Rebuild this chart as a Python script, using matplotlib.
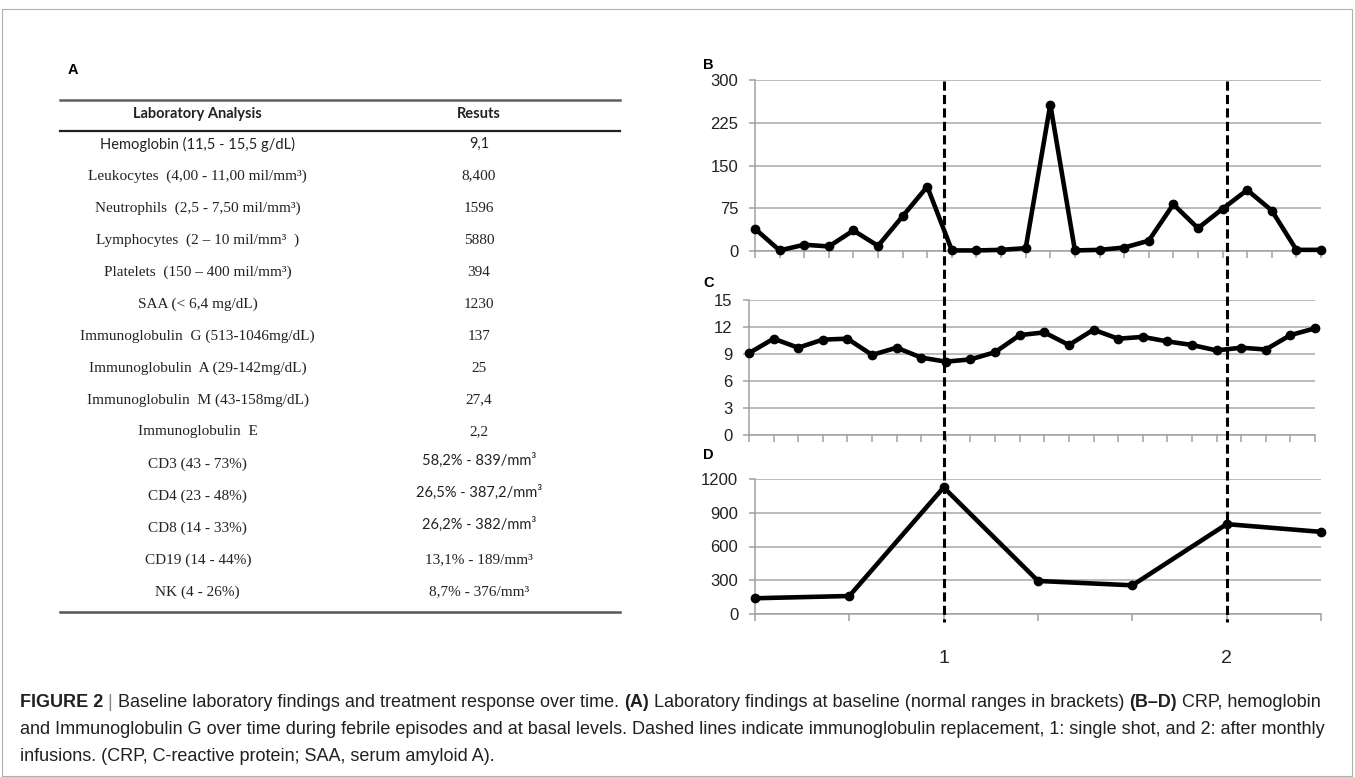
import matplotlib
matplotlib.use('Agg')
import matplotlib.pyplot as plt
import numpy as np
from matplotlib.transforms import blended_transform_factory
from matplotlib.lines import Line2D
from matplotlib.patches import Rectangle

# Panel A: baseline laboratory table
lab_names = ["Hemoglobin (11,5 - 15,5 g/dL)", "Leukocytes  (4,00 - 11,00 mil/mm³)",
             "Neutrophils  (2,5 - 7,50 mil/mm³)", "Lymphocytes  (2 – 10 mil/mm³  )",
             "Platelets  (150 – 400 mil/mm³)", "SAA (< 6,4 mg/dL)",
             "Immunoglobulin  G (513-1046mg/dL)", "Immunoglobulin  A (29-142mg/dL)",
             "Immunoglobulin  M (43-158mg/dL)", "Immunoglobulin  E",
             "CD3 (43 - 73%)", "CD4 (23 - 48%)", "CD8 (14 - 33%)", "CD19 (14 - 44%)",
             "NK (4 - 26%)"]
lab_results = ["9,1", "8,400", "1596", "5880", "394", "1230", "137", "25", "27,4", "2,2",
               "58,2% - 839/mm³", "26,5% - 387,2/mm³", "26,2% - 382/mm³",
               "13,1% - 189/mm³", "8,7% - 376/mm³"]
sans_names = [0]
sans_results = [0, 10, 11, 12]

# Panel B: CRP
crp = [39, 1, 11, 8, 36, 9, 61, 113, 1, 1, 2, 5, 257, 1, 2, 6, 18, 82, 40, 74, 107, 71, 2, 2]
# Panel C: hemoglobin
hb = [9.1, 10.7, 9.7, 10.6, 10.7, 8.9, 9.7, 8.6, 8.15, 8.4, 9.2, 11.1, 11.4, 10.0,
      11.7, 10.7, 10.9, 10.4, 10.0, 9.4, 9.7, 9.5, 11.1, 11.85]
# Panel D: immunoglobulin G
igg = [140, 160, 1125, 294, 255, 799, 730]
igg_labels = ['', '', '1', '', '', '2', '']
infusions = [2, 5]  # positions on the IgG axis

W, H = 1355, 777
fig = plt.figure(figsize=(W / 100, H / 100), dpi=100)

sans = ['Liberation Sans Narrow', 'Liberation Sans', 'DejaVu Sans']


def box(l, t, r, b):
    return [l / W, 1 - b / H, (r - l) / W, (b - t) / H]


# outer frame
fig.add_artist(Rectangle((2 / W, 1 / H), 1350 / W, 767 / H, transform=fig.transFigure,
                         fill=False, ec='#b0b0b0', lw=0.8))

# ---- table ----
axT = fig.add_axes(box(60, 100, 620, 612))
axT.set_xlim(0, 1)
axT.set_ylim(14.625, -1.375)
axT.axis('off')
for yy, lw, c in [(-1.375, 1.8, '#606060'), (-0.41, 1.6, '#222222'), (14.625, 1.8, '#555555')]:
    axT.axhline(yy, color=c, lw=lw, clip_on=False)
axT.text(0.246, -0.94, 'Laboratory Analysis', ha='center', va='center',
         family='Lato', fontweight='bold', fontsize=10.5, color='#222222')
axT.text(0.748, -0.94, 'Resuts', ha='center', va='center',
         family='Lato', fontweight='bold', fontsize=10.5, color='#222222')
for i, (nm, res) in enumerate(zip(lab_names, lab_results)):
    if i in sans_names:
        axT.text(0.246, i, nm, ha='center', va='center', family='Lato', fontsize=10.5, color='#222222')
    else:
        axT.text(0.246, i, nm, ha='center', va='center', family='Liberation Serif', fontsize=11, color='#222222')
    if i in sans_results:
        shift = 0 if i == 0 else 0.12
        axT.text(0.748, i - shift, res, ha='center', va='center', family='Lato', fontsize=10.5, color='#222222')
    else:
        axT.text(0.748, i, res, ha='center', va='center', family='Liberation Serif', fontsize=11, color='#222222')

fig.text(68 / W, 1 - 70 / H, 'A', family='Liberation Sans', fontweight='bold', fontsize=10.5,
         va='center', ha='left')

# ---- time-course panels ----
axB = fig.add_axes(box(755, 80, 1321, 251))
axC = fig.add_axes(box(749, 300, 1315, 435))
axD = fig.add_axes(box(755, 479, 1321, 614))


def style(ax, n, ymax, step):
    ax.set_xlim(0, n - 1)
    ax.set_ylim(0, ymax)
    ax.set_yticks(np.arange(0, ymax + step / 2, step))
    ax.set_xticks(range(n))
    ax.grid(axis='y', color='#a8a8a8', lw=1.1)
    ax.set_axisbelow(True)
    for s in ['top', 'right']:
        ax.spines[s].set_visible(False)
    for s in ['left', 'bottom']:
        ax.spines[s].set_color('#a0a0a0')
        ax.spines[s].set_linewidth(1.1)
    ax.tick_params(axis='x', length=5, color='#a0a0a0', width=1.1)
    ax.tick_params(axis='y', length=4, color='#a0a0a0', width=1.1, pad=8)
    for lab in ax.get_yticklabels():
        lab.set_family(sans)
        lab.set_fontsize(12)
        lab.set_color('#222222')


style(axB, len(crp), 300, 75)
style(axC, len(hb), 15, 3)
style(axD, len(igg), 1200, 300)
axB.set_xticklabels([])
axC.set_xticklabels([])
axD.set_xticklabels(igg_labels, family=sans, fontsize=14, color='#222222')
axD.tick_params(axis='x', pad=21)

for ax, vals in [(axB, crp), (axC, hb), (axD, igg)]:
    ax.plot(range(len(vals)), vals, color='black', lw=3.3, marker='o', ms=6,
            solid_joinstyle='round', clip_on=False, zorder=3)

# dashed lines for immunoglobulin replacement, spanning B to D
trans = blended_transform_factory(axD.transData, fig.transFigure)
for x in infusions:
    fig.add_artist(Line2D([x, x], [1 - 81 / H, 1 - 622 / H], transform=trans,
                          color='black', lw=2.2, dashes=(3, 1.4), zorder=5))

for lab, yy in [('B', 65), ('C', 283), ('D', 455)]:
    fig.text(703 / W, 1 - yy / H, lab, family='Liberation Sans', fontweight='bold',
             fontsize=10.5, va='center', ha='left')

# ---- caption ----
bg = fig.add_axes([0, 0, 1, 1], zorder=-1)
bg.axis('off')
cap_color = '#231f20'
cap_size = 13
line1 = [("FIGURE 2", 'bold', cap_color), (" | ", 'normal', '#888888'),
         ("Baseline laboratory findings and treatment response over time. ", 'normal', cap_color),
         ("(A)", 'bold', cap_color),
         (" Laboratory findings at baseline (normal ranges in brackets) ", 'normal', cap_color),
         ("(B–D)", 'bold', cap_color), (" CRP, hemoglobin", 'normal', cap_color)]
prev = None
for txt, wt, col in line1:
    if prev is None:
        prev = bg.text(20 / W, 1 - 711 / H, txt, fontweight=wt, color=col, family=sans,
                       fontsize=cap_size, va='bottom', ha='left')
    else:
        prev = bg.annotate(txt, xy=(1, 0), xycoords=prev, va='bottom', ha='left',
                           fontweight=wt, color=col, family=sans, fontsize=cap_size)
bg.text(20 / W, 1 - 738 / H, "and Immunoglobulin G over time during febrile episodes and at basal levels. "
        "Dashed lines indicate immunoglobulin replacement, 1: single shot, and 2: after monthly",
        color=cap_color, family=sans, fontsize=cap_size, va='bottom', ha='left')
bg.text(20 / W, 1 - 765 / H, "infusions. (CRP, C-reactive protein; SAA, serum amyloid A).",
        color=cap_color, family=sans, fontsize=cap_size, va='bottom', ha='left')

fig.savefig('out.png', dpi=100)
